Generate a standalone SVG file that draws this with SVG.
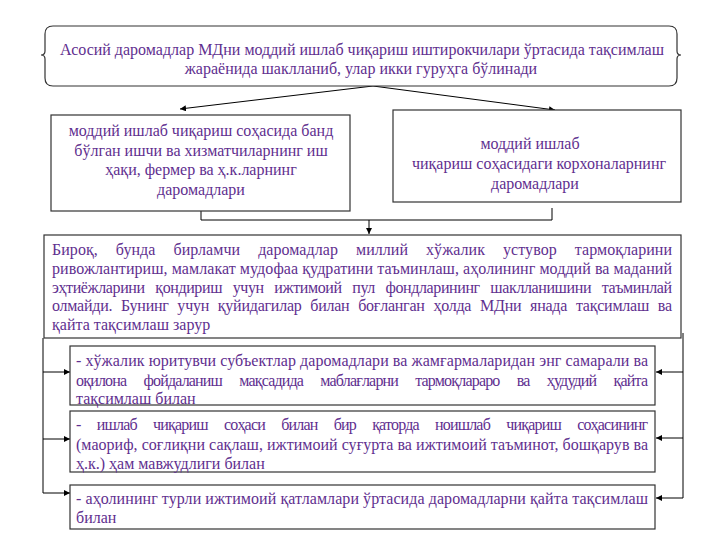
<svg xmlns="http://www.w3.org/2000/svg" width="720" height="540" viewBox="0 0 720 540">
<defs>
<marker id="ah" viewBox="0 0 10 10" refX="10" refY="5" markerWidth="6" markerHeight="6" orient="auto" markerUnits="userSpaceOnUse">
<path d="M0,0 L10,5 L0,10 Z" fill="#000"/>
</marker>
<style>
.t{font-family:"Liberation Serif","Times New Roman",serif;font-size:16px;fill:#5f2f8f}
.c{text-anchor:middle}
.box{fill:#fff;stroke:#333;stroke-width:1.2}
.ln{fill:none;stroke:#000;stroke-width:1}
</style>
</defs>
<rect width="720" height="540" fill="#fff"/>

<g id="connectors">
<path class="ln" d="M373,86 L180,109" marker-end="url(#ah)"/>
<path class="ln" d="M373,86 L555,110" marker-end="url(#ah)"/>
<path class="ln" d="M201,210 L201,220 L552,220 L552,208"/>
<path class="ln" d="M369,220 L369,234" marker-end="url(#ah)"/>
<path class="ln" d="M43,338 L43,493"/>
<path class="ln" d="M43,372 L70,372" marker-end="url(#ah)"/>
<path class="ln" d="M43,439 L70,439" marker-end="url(#ah)"/>
<path class="ln" d="M43,493 L70,493" marker-end="url(#ah)"/>
<path class="ln" d="M683,333 L683,498"/>
<path class="ln" d="M683,372 L656,372" marker-end="url(#ah)"/>
<path class="ln" d="M683,438 L656,438" marker-end="url(#ah)"/>
<path class="ln" d="M683,498 L656,498" marker-end="url(#ah)"/>
</g>

<g id="top">
<path class="box" d="M53,26 L669,26 Q677,26 677,34 L677,51 Q677,55 681,55 Q677,55 677,59 L677,78 Q677,86 669,86 L53,86 Q45,86 45,78 L45,59 Q45,55 41,55 Q45,55 45,51 L45,34 Q45,26 53,26 Z"/>
<text class="t c" x="362" y="55">Асосий даромадлар МДни моддий ишлаб чиқариш иштирокчилари ўртасида тақсимлаш</text>
<text class="t c" x="361" y="74">жараёнида шаклланиб, улар икки гуруҳга бўлинади</text>
</g>

<g id="left">
<rect class="box" x="51" y="115" width="299" height="96"/>
<text class="t c" x="201" y="136">моддий ишлаб чиқариш соҳасида банд</text>
<text class="t c" x="201" y="155.5">бўлган ишчи ва хизматчиларнинг иш</text>
<text class="t c" x="201" y="175">ҳақи, фермер ва ҳ.к.ларнинг</text>
<text class="t c" x="201" y="194.5">даромадлари</text>
</g>

<g id="right">
<rect class="box" x="393" y="110" width="288" height="92"/>
<text class="t c" x="530" y="149">моддий ишлаб</text>
<text class="t c" x="539" y="169">чиқариш соҳасидаги корхоналарнинг</text>
<text class="t c" x="535" y="189">даромадлари</text>
</g>

<g id="main">
<rect class="box" x="44" y="235" width="637" height="103"/>
<text class="t" x="52" y="255" style="word-spacing:14px" textLength="620" lengthAdjust="spacing">Бироқ, бунда бирламчи даромадлар миллий хўжалик устувор тармоқларини</text>
<text class="t" x="52" y="274" textLength="620" lengthAdjust="spacing">ривожлантириш, мамлакат мудофаа қудратини таъминлаш, аҳолининг моддий ва маданий</text>
<text class="t" x="52" y="292.5" style="word-spacing:7px" textLength="620" lengthAdjust="spacing">эҳтиёжларини қондириш учун ижтимоий пул фондларининг шаклланишини таъминлай</text>
<text class="t" x="52" y="311" style="word-spacing:5px" textLength="620" lengthAdjust="spacing">олмайди. Бунинг учун қуйидагилар билан боғланган ҳолда МДни янада тақсимлаш ва</text>
<text class="t" x="52" y="329.5">қайта тақсимлаш зарур</text>
</g>

<g id="item1">
<rect class="box" x="70" y="346" width="585" height="59"/>
<text class="t" x="76" y="365.5" textLength="572" lengthAdjust="spacing">- хўжалик юритувчи субъектлар даромадлари ва жамғармаларидан энг самарали ва</text>
<text class="t" x="76" y="385.5" style="word-spacing:14px" textLength="572" lengthAdjust="spacing">оқилона фойдаланиш мақсадида маблағларни тармоқлараро ва ҳудудий қайта</text>
<text class="t" x="76" y="403.5">тақсимлаш билан</text>
</g>

<g id="item2">
<rect class="box" x="70" y="411" width="585" height="61"/>
<text class="t" x="76" y="429.5" style="word-spacing:13px" textLength="572" lengthAdjust="spacing">- ишлаб чиқариш соҳаси билан бир қаторда ноишлаб чиқариш соҳасининг</text>
<text class="t" x="76" y="450" textLength="572" lengthAdjust="spacing">(маориф, соғлиқни сақлаш, ижтимоий суғурта ва ижтимоий таъминот, бошқарув ва</text>
<text class="t" x="76" y="469">ҳ.к.) ҳам мавжудлиги билан</text>
</g>

<g id="item3">
<rect class="box" x="70" y="485" width="585" height="44"/>
<text class="t" x="76" y="503.5" textLength="572" lengthAdjust="spacing">- аҳолининг турли ижтимоий қатламлари ўртасида даромадларни қайта тақсимлаш</text>
<text class="t" x="76" y="523">билан</text>
</g>
</svg>
